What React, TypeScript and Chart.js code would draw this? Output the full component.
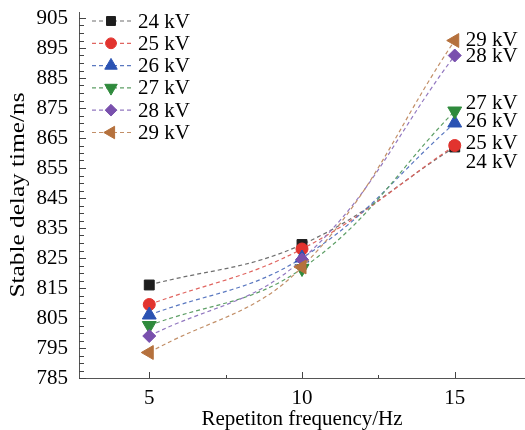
import React, { useEffect, useRef } from 'react';
import { Chart, registerables } from 'chart.js';
import { drawPoint } from 'chart.js/helpers';

Chart.register(...registerables);

// ---- data ----
const frequencies = [5, 10, 15];
const seriesLabels = ['24 kV', '25 kV', '26 kV', '27 kV', '28 kV', '29 kV'];
const delay24kV = [816, 829.5, 862];
const delay25kV = [809.5, 828, 862.5];
const delay26kV = [806, 825, 870];
const delay27kV = [802.5, 821.5, 874];
const delay28kV = [799, 824.5, 892.5];
const delay29kV = [793.5, 822, 897.5];
const yTickValues = [785, 795, 805, 815, 825, 835, 845, 855, 865, 875, 885, 895, 905];
const xTickValues = [5, 10, 15];
const xAxisTitle = 'Repetiton frequency/Hz';
const yAxisTitle = 'Stable delay time/ns';

// ---- styles ----
const FONT = "'Liberation Serif', 'Times New Roman', serif";
const seriesStyles = [
  { color: '#1e1e1e', line: '#6e6e6e', pointStyle: 'rect', radius: 7, rotation: 0 },
  { color: '#e2332e', line: '#e06560', pointStyle: 'circle', radius: 6, rotation: 0 },
  { color: '#2b53b3', line: '#5a78c0', pointStyle: 'triangle', radius: 8, rotation: 0 },
  { color: '#2f8a3c', line: '#5e9f66', pointStyle: 'triangle', radius: 8, rotation: 180 },
  { color: '#7950ad', line: '#9278c0', pointStyle: 'rectRot', radius: 6.5, rotation: 0 },
  { color: '#b5713d', line: '#c28f68', pointStyle: 'triangle', radius: 8, rotation: 270 },
];
const endLabelOffsets = [15, -2, -2, -8, 1, 0];

const allSeries = [delay24kV, delay25kV, delay26kV, delay27kV, delay28kV, delay29kV];

const customPlugin = {
  id: 'custom',
  afterDraw(chart: any) {
    const { ctx, chartArea, scales } = chart;
    const xs = scales.x;
    const ys = scales.y;
    ctx.save();
    // inward ticks on both axes
    ctx.strokeStyle = '#444';
    ctx.lineWidth = 1;
    ctx.beginPath();
    for (let v = yTickValues[0]; v <= ys.max + 1e-6; v += 2.5) {
      const p = Math.round(ys.getPixelForValue(v)) + 0.5;
      const major = yTickValues.includes(v);
      ctx.moveTo(chartArea.left, p);
      ctx.lineTo(chartArea.left + (major ? 7 : 5), p);
    }
    for (let v = xTickValues[0]; v <= xTickValues[xTickValues.length - 1] + 1e-6; v += 2.5) {
      const p = Math.round(xs.getPixelForValue(v)) + 0.5;
      const major = xTickValues.includes(v);
      ctx.moveTo(p, chartArea.bottom);
      ctx.lineTo(p, chartArea.bottom - (major ? 6 : 3));
    }
    ctx.stroke();

    // y axis title (slightly stretched along its length, as in the source figure)
    ctx.save();
    ctx.translate(18, (chartArea.top + chartArea.bottom) / 2);
    ctx.rotate(-Math.PI / 2);
    ctx.scale(1.15, 1);
    ctx.font = `22px ${FONT}`;
    ctx.fillStyle = '#000';
    ctx.textAlign = 'center';
    ctx.textBaseline = 'middle';
    ctx.fillText(yAxisTitle, 0, 0);
    ctx.restore();

    // legend
    const lx0 = 92, lx1 = 132, mx = 111, tx = 138, ly0 = 21, dy = 22.3;
    ctx.font = `21px ${FONT}`;
    ctx.textBaseline = 'middle';
    ctx.textAlign = 'left';
    seriesLabels.forEach((lab, i) => {
      const st = seriesStyles[i];
      const y = ly0 + dy * i;
      ctx.save();
      ctx.strokeStyle = st.line;
      ctx.lineWidth = 1.2;
      ctx.setLineDash([4, 3]);
      ctx.beginPath();
      ctx.moveTo(lx0, y);
      ctx.lineTo(lx1, y);
      ctx.stroke();
      ctx.restore();
      ctx.save();
      ctx.fillStyle = st.color;
      ctx.strokeStyle = st.color;
      drawPoint(ctx, { pointStyle: st.pointStyle, radius: st.radius * 0.9, rotation: st.rotation, borderWidth: 1 } as any, mx, y);
      ctx.restore();
      ctx.fillStyle = '#000';
      ctx.fillText(lab, tx, y + 1);
    });

    // end labels
    seriesLabels.forEach((lab, i) => {
      const meta = chart.getDatasetMeta(i);
      const pt = meta.data[meta.data.length - 1];
      ctx.fillStyle = '#000';
      ctx.fillText(lab, pt.x + 11, pt.y + endLabelOffsets[i]);
    });
    ctx.restore();
  },
};

export default function App() {
  const ref = useRef<HTMLCanvasElement>(null);
  useEffect(() => {
    const datasets = allSeries.map((vals, i) => {
      const st = seriesStyles[i];
      return {
        label: seriesLabels[i],
        data: frequencies.map((f, j) => ({ x: f, y: vals[j] })),
        borderColor: st.line,
        borderWidth: 1.2,
        borderDash: [4, 3],
        tension: 0.4,
        fill: false,
        pointStyle: st.pointStyle,
        pointRadius: st.radius,
        pointRotation: st.rotation,
        pointBackgroundColor: st.color,
        pointBorderColor: st.color,
        pointBorderWidth: 1,
        order: seriesLabels.length - i,
      };
    });
    const chart = new Chart(ref.current!, {
      type: 'line',
      data: { datasets } as any,
      plugins: [customPlugin],
      options: {
        responsive: false,
        animation: false,
        layout: { autoPadding: false, padding: { top: 12, left: 0, right: 0, bottom: 0 } },
        plugins: { legend: { display: false }, tooltip: { enabled: false } },
        scales: {
          x: {
            type: 'linear',
            min: 2.7,
            max: 17.3,
            grid: { display: false, drawTicks: false },
            border: { display: true, color: '#555', width: 1 },
            afterBuildTicks: (s: any) => { s.ticks = xTickValues.map((v) => ({ value: v })); },
            afterFit: (s: any) => { s.height = 52; s.paddingLeft = 0; s.paddingRight = 0; s.paddingTop = 0; s.paddingBottom = 0; },
            ticks: { color: '#000', font: { family: FONT, size: 21 }, padding: 8, maxRotation: 0 },
            title: { display: true, text: xAxisTitle, color: '#000', font: { family: FONT, size: 21, lineHeight: 1 }, padding: { top: 0, bottom: 0 } },
          },
          y: {
            type: 'linear',
            min: 785,
            max: 907,
            grid: { display: false, drawTicks: false },
            border: { display: true, color: '#555', width: 1 },
            afterBuildTicks: (s: any) => { s.ticks = yTickValues.map((v) => ({ value: v })); },
            afterFit: (s: any) => { s.width = 79; s.paddingLeft = 0; s.paddingRight = 0; s.paddingTop = 0; s.paddingBottom = 0; },
            ticks: { color: '#000', font: { family: FONT, size: 21 }, padding: 11 },
            title: { display: false, text: yAxisTitle },
          },
        },
      },
    } as any);
    return () => chart.destroy();
  }, []);
  return (
    <div style={{ position: 'absolute', left: 0, top: 0, width: 525, height: 430, background: '#fff' }}>
      <canvas ref={ref} width={525} height={430} style={{ display: 'block' }} />
    </div>
  );
}
